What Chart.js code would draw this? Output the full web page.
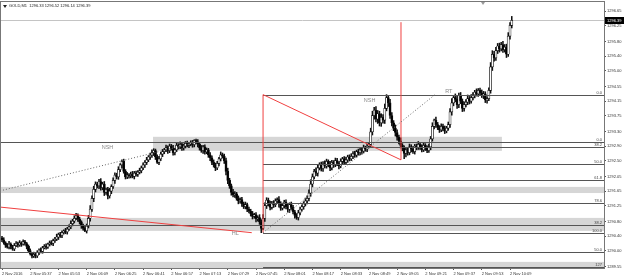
<!DOCTYPE html>
<html>
<head>
<meta charset="utf-8">
<script src="https://cdn.jsdelivr.net/npm/chart.js@4.4.0/dist/chart.umd.min.js"></script>
<style>
html, body { margin:0; padding:0; background:#fff; }
</style>
</head>
<body>
<canvas id="chart" width="625" height="278"></canvas>
<script>
// GOLD M1, 2 Nov 2016 05:21 .. 10:10, one entry per bar
var firstOpen = 1290.36;
var closes = [
1290.30,1290.22,1290.15,1290.10,1290.18,1290.12,1290.05,1290.14,1290.20,1290.16,
1290.22,1290.18,1290.25,1290.20,1290.12,1290.00,1289.92,1289.85,1289.90,1289.86,
1289.95,1290.02,1289.98,1290.08,1290.12,1290.10,1290.18,1290.22,1290.20,1290.28,
1290.32,1290.38,1290.45,1290.42,1290.50,1290.55,1290.52,1290.60,1290.66,1290.75,
1290.82,1290.90,1290.98,1290.88,1290.80,1290.70,1290.62,1290.55,1290.68,1290.90,
1291.15,1291.45,1291.70,1291.85,1291.80,1291.92,1291.75,1291.85,1291.62,1291.70,
1291.52,1291.65,1291.78,1291.95,1292.10,1292.05,1292.25,1292.38,1292.48,1292.20,
1292.05,1292.10,1292.08,1292.12,1292.06,1292.15,1292.12,1292.18,1292.22,1292.30,
1292.38,1292.45,1292.52,1292.60,1292.65,1292.72,1292.78,1292.60,1292.45,1292.55,
1292.68,1292.75,1292.80,1292.86,1292.78,1292.90,1292.84,1292.72,1292.80,1292.92,
1292.88,1292.95,1292.85,1292.90,1292.98,1292.92,1292.96,1293.00,1292.94,1293.06,
1293.02,1292.95,1292.85,1292.78,1292.88,1292.74,1292.80,1292.66,1292.58,1292.45,
1292.38,1292.30,1292.42,1292.55,1292.66,1292.62,1292.50,1292.20,1291.95,1291.80,
1291.62,1291.55,1291.58,1291.45,1291.38,1291.42,1291.30,1291.22,1291.28,1291.15,
1291.10,1291.02,1290.95,1291.00,1290.88,1290.92,1290.80,1290.62,1290.90,1291.25,
1291.40,1291.30,1291.20,1291.32,1291.28,1291.38,1291.42,1291.30,1291.18,1291.25,
1291.35,1291.22,1291.15,1291.28,1291.20,1291.08,1290.98,1290.92,1291.05,1291.15,
1291.22,1291.30,1291.38,1291.45,1291.60,1291.85,1292.05,1292.20,1292.15,1292.30,
1292.38,1292.28,1292.42,1292.35,1292.48,1292.40,1292.30,1292.45,1292.38,1292.50,
1292.42,1292.35,1292.48,1292.55,1292.45,1292.52,1292.60,1292.55,1292.62,1292.70,
1292.65,1292.75,1292.72,1292.80,1292.76,1292.85,1292.82,1292.90,1292.95,1293.30,
1293.75,1293.90,1293.65,1293.80,1293.55,1293.70,1293.62,1293.95,1294.25,1294.10,
1293.75,1293.55,1293.40,1293.28,1293.15,1293.05,1292.92,1292.85,1292.70,1292.80,
1292.72,1292.88,1292.82,1292.75,1292.90,1292.86,1292.95,1292.88,1292.80,1292.92,
1292.85,1292.78,1292.88,1293.10,1293.45,1293.62,1293.50,1293.42,1293.35,1293.45,
1293.38,1293.32,1293.40,1293.50,1293.85,1294.10,1294.25,1294.20,1294.05,1294.30,
1294.15,1293.95,1294.05,1294.12,1294.22,1294.15,1294.25,1294.32,1294.40,1294.35,
1294.45,1294.38,1294.30,1294.35,1294.18,1294.22,1294.45,1295.10,1295.45,1295.35,
1295.55,1295.68,1295.60,1295.72,1295.58,1295.65,1295.45,1295.95,1296.25,1296.39
];
// wick lengths above / below the body, in cents
var upWick = [
4,6,3,5,8,4,3,6,5,4, 6,3,5,4,3,4,5,3,6,4, 5,3,6,4,5,7,3,5,6,4, 5,8,4,6,5,3,7,5,6,8,
5,7,6,4,5,3,4,5,6,8, 10,7,9,6,5,6,8,5,7,4, 6,8,5,7,6,5,8,4,4,6, 5,7,4,6,8,5,6,4,7,5,
6,5,7,4,6,8,5,4,6,7, 5,6,4,7,5,6,5,8,4,6, 5,7,4,6,5,6,4,5,6,2, 4,6,5,7,4,6,5,4,6,5,
7,5,6,4,8,5,6,7,9,6, 5,8,6,4,7,5,6,5,7,4, 6,5,7,4,6,5,8,6,10,8, 7,6,8,5,7,6,5,8,6,7,
5,6,8,5,7,6,4,5,7,6, 5,6,8,7,9,12,8,6,10,7, 6,8,5,7,6,4,8,6,5,7, 6,5,7,4,6,8,5,6,7,5,
6,4,7,5,6,8,5,6,4,10, 12,8,10,9,7,10,8,12,8,6, 10,8,6,9,7,6,8,5,6,7, 5,8,6,7,5,6,8,5,6,7,
5,6,8,7,10,3,9,6,5,7, 6,8,5,7,9,12,5,10,8,7, 9,6,8,7,10,6,8,7,5,9, 5,6,8,7,6,5,7,12,10,8,
9,7,8,6,9,7,8,10,8,11
];
var downWick = [
5,4,6,3,5,7,4,5,3,6, 4,6,3,5,7,5,4,5,4,6, 5,6,4,5,3,6,4,5,4,6, 5,4,7,5,6,4,5,6,4,5,
6,5,4,7,6,8,5,2,6,5, 8,6,9,7,6,8,7,6,9,6, 8,6,7,5,8,6,7,6,8,5, 6,5,7,6,4,7,5,6,5,6,
5,7,6,5,7,6,8,7,3,6, 5,7,6,5,8,6,5,7,6,5, 6,5,7,6,5,4,6,5,7,6, 5,7,6,5,8,6,5,7,8,6,
6,8,5,7,6,5,8,10,9,7, 8,6,7,5,8,6,7,5,6,7, 5,6,7,5,8,6,7,12,4,9, 8,6,7,5,8,6,7,9,6,5,
7,6,8,9,7,6,8,5,7,6, 5,7,6,8,7,9,8,6,7,8, 6,7,8,5,6,7,8,6,7,5, 6,8,5,7,6,5,7,6,5,7,
6,5,7,6,8,5,6,7,5,6, 9,10,8,12,9,10,8,9,7,10, 8,9,7,10,8,9,7,8,15,10, 7,6,8,5,7,6,5,7,6,5,
7,6,5,8,6,7,8,6,7,5, 6,7,5,6,8,9,8,7,10,8, 7,9,8,6,7,8,6,7,8,6, 7,6,5,8,7,9,6,8,10,9,
7,8,9,6,8,7,9,6,8,7
];

var xTickBars = [0,16,32,48,64,80,96,112,128,144,160,176,192,208,224,240,256,272,288];
var xTickLabels = ["2 Nov 2016","2 Nov 05:37","2 Nov 05:53","2 Nov 06:09","2 Nov 06:25","2 Nov 06:41",
  "2 Nov 06:57","2 Nov 07:13","2 Nov 07:29","2 Nov 07:45","2 Nov 08:01","2 Nov 08:17","2 Nov 08:33",
  "2 Nov 08:49","2 Nov 09:05","2 Nov 09:21","2 Nov 09:37","2 Nov 09:53","2 Nov 10:09"];
var yTicks = [1289.55,1290.00,1290.40,1290.80,1291.25,1291.65,1292.05,1292.50,1292.90,
  1293.30,1293.75,1294.15,1294.55,1295.00,1295.40,1295.80,1296.25,1296.65];
var lastPrice = 1296.39;
var header = "GOLD,M1  1296.33 1296.52 1296.14 1296.39";

// chart objects, in bar index / price
var zones = [ [85.6,283.4,1293.16,1292.77], [-2,345,1291.77,1291.60], [-2,345,1290.91,1290.55], [-2,345,1289.69,1289.40] ];
var fibLines = [ [148,1294.33,"0.0"], [148,1292.87,"38.2"], [148,1292.40,"50.0"], [148,1291.96,"61.8"],
  [148,1291.33,"78.6"], [148,1290.50,"100.0"], [148,1289.55,"127"],
  [-2,1293.01,"0.0"], [-2,1290.70,"38.2"], [-2,1289.97,"50.0"] ];
var redLines = [ [-1.1,1291.21,141.6,1290.50], [148,1294.33,148,1290.50], [148,1294.33,226.2,1292.52], [226.2,1296.34,226.2,1292.52] ];
var dotLines = [ [-1.1,1291.66,110.5,1293.01], [148,1290.50,245.5,1294.33] ];
var notes = [ ["NSH",59.8,1292.85], ["NSH",208.4,1294.16], ["RT",253.3,1294.43], ["HL",132.3,1290.49] ];

var opens = [], highs = [], lows = [];
for (var i = 0; i < closes.length; i++) {
  var o = i == 0 ? firstOpen : closes[i-1];
  opens.push(o);
  highs.push(+(Math.max(o, closes[i]) + upWick[i]/100).toFixed(2));
  lows.push(+(Math.min(o, closes[i]) - downWick[i]/100).toFixed(2));
}

var FONT = "Liberation Sans";
var SMALL = '4px "' + FONT + '"';

var overlay = {
  id: 'overlay',
  beforeDatasetsDraw: function(chart) {
    var ctx = chart.ctx, a = chart.chartArea, x = chart.scales.x, y = chart.scales.y;
    ctx.save();
    ctx.beginPath(); ctx.rect(a.left, a.top, a.right - a.left, a.bottom - a.top); ctx.clip();
    ctx.fillStyle = '#d6d6d6';
    zones.forEach(function(z) {
      var x0 = x.getPixelForValue(z[0]), x1 = x.getPixelForValue(z[1]);
      var y0 = y.getPixelForValue(z[2]), y1 = y.getPixelForValue(z[3]);
      ctx.fillRect(x0, y0, x1 - x0, y1 - y0);
    });
    // bid line
    var py = Math.round(y.getPixelForValue(lastPrice)) + 0.5;
    ctx.strokeStyle = '#c4c4c4'; ctx.lineWidth = 1;
    ctx.beginPath(); ctx.moveTo(a.left, py); ctx.lineTo(a.right, py); ctx.stroke();
    ctx.restore();
  },
  afterDatasetsDraw: function(chart) {
    var ctx = chart.ctx, a = chart.chartArea, x = chart.scales.x, y = chart.scales.y;
    ctx.save();
    ctx.beginPath(); ctx.rect(a.left, a.top, a.right - a.left, a.bottom - a.top); ctx.clip();

    // fibo levels
    ctx.strokeStyle = '#555'; ctx.lineWidth = 1;
    ctx.fillStyle = '#444'; ctx.font = SMALL;
    ctx.textAlign = 'right'; ctx.textBaseline = 'bottom';
    fibLines.forEach(function(f) {
      var ly = Math.round(y.getPixelForValue(f[1])) + 0.5;
      ctx.beginPath(); ctx.moveTo(x.getPixelForValue(f[0]), ly); ctx.lineTo(a.right, ly); ctx.stroke();
      ctx.fillText(f[2], a.right - 2, ly - 0.5);
    });

    ctx.strokeStyle = '#f04040';
    redLines.forEach(function(l) {
      ctx.beginPath();
      ctx.moveTo(x.getPixelForValue(l[0]), y.getPixelForValue(l[1]));
      ctx.lineTo(x.getPixelForValue(l[2]), y.getPixelForValue(l[3]));
      ctx.stroke();
    });

    ctx.strokeStyle = '#666'; ctx.setLineDash([1, 2]);
    dotLines.forEach(function(l) {
      ctx.beginPath();
      ctx.moveTo(x.getPixelForValue(l[0]), y.getPixelForValue(l[1]));
      ctx.lineTo(x.getPixelForValue(l[2]), y.getPixelForValue(l[3]));
      ctx.stroke();
    });
    ctx.setLineDash([]);

    ctx.fillStyle = '#8a8a8a'; ctx.font = '5.5px "' + FONT + '"';
    ctx.textAlign = 'center'; ctx.textBaseline = 'middle';
    notes.forEach(function(n) {
      ctx.fillText(n[0], x.getPixelForValue(n[1]), y.getPixelForValue(n[2]));
    });

    // header
    ctx.fillStyle = '#222';
    ctx.beginPath(); ctx.moveTo(a.left + 2, a.top + 3); ctx.lineTo(a.left + 6, a.top + 3); ctx.lineTo(a.left + 4, a.top + 6); ctx.fill();
    ctx.font = SMALL; ctx.textAlign = 'left'; ctx.textBaseline = 'middle';
    ctx.fillText(header, a.left + 8, a.top + 4);

    // shift marker
    var sx = x.getPixelForValue(272.7);
    ctx.fillStyle = '#999';
    ctx.beginPath(); ctx.moveTo(sx - 2, a.top); ctx.lineTo(sx + 2, a.top); ctx.lineTo(sx, a.top + 3); ctx.fill();
    ctx.restore();

    // frame
    ctx.save();
    ctx.strokeStyle = '#777'; ctx.lineWidth = 1;
    ctx.strokeRect(a.left - 0.5, a.top - 0.5, a.right - a.left + 1, a.bottom - a.top + 1);
    // last price box
    var py = Math.round(y.getPixelForValue(lastPrice));
    ctx.fillStyle = '#000';
    ctx.fillRect(a.right + 1, py - 3, 19, 7);
    ctx.fillStyle = '#fff'; ctx.font = SMALL;
    ctx.textAlign = 'left'; ctx.textBaseline = 'middle';
    ctx.fillText(lastPrice.toFixed(2), a.right + 3, py + 0.5);
    ctx.restore();
  }
};

var wickData = [], bodyData = [], bodyFill = [];
for (var j = 0; j < closes.length; j++) {
  wickData.push({x: j, y: [lows[j], highs[j]]});
  bodyData.push({x: j, y: [opens[j], closes[j]]});
  bodyFill.push(closes[j] >= opens[j] ? '#fff' : '#000');
}

new Chart(document.getElementById('chart'), {
  type: 'bar',
  data: {
    datasets: [
      { data: wickData, backgroundColor: '#111', barThickness: 0.9, grouped: false, order: 2 },
      { data: bodyData, backgroundColor: bodyFill, borderColor: '#111', borderWidth: 0.7, borderSkipped: false,
        barThickness: 2.2, minBarLength: 1, grouped: false, order: 1 }
    ]
  },
  options: {
    responsive: false,
    animation: false,
    devicePixelRatio: 1,
    layout: { autoPadding: false, padding: { left: 1, top: 2, right: 0, bottom: 0 } },
    plugins: { legend: { display: false }, tooltip: { enabled: false } },
    scales: {
      x: {
        type: 'linear', offset: false, bounds: 'data', min: -0.567, max: 341.29,
        afterBuildTicks: function(s) { s.ticks = xTickBars.map(function(v) { return {value: v}; }); },
        afterFit: function(s) { s.height = 10; s.paddingLeft = 0; s.paddingRight = 0; },
        grid: { display: true, offset: false, drawOnChartArea: false, tickLength: 2, color: '#555' },
        border: { display: true, color: '#555' },
        ticks: { autoSkip: false, maxRotation: 0, align: 'start', padding: 1, color: '#333',
          font: { family: FONT, size: 4 },
          callback: function(v) { var k = xTickBars.indexOf(v); return k < 0 ? '' : xTickLabels[k]; } }
      },
      y: {
        position: 'right', min: 1289.52, max: 1296.90,
        afterBuildTicks: function(s) { s.ticks = yTicks.map(function(v) { return {value: v}; }); },
        afterFit: function(s) { s.width = 21; s.paddingTop = 0; s.paddingBottom = 0; },
        grid: { display: true, drawOnChartArea: false, tickLength: 2, color: '#555' },
        border: { display: true, color: '#555' },
        ticks: { padding: 1, color: '#333', font: { family: FONT, size: 4 },
          callback: function(v) { return v.toFixed(2); } }
      }
    }
  },
  plugins: [overlay]
});
</script>
</body>
</html>
